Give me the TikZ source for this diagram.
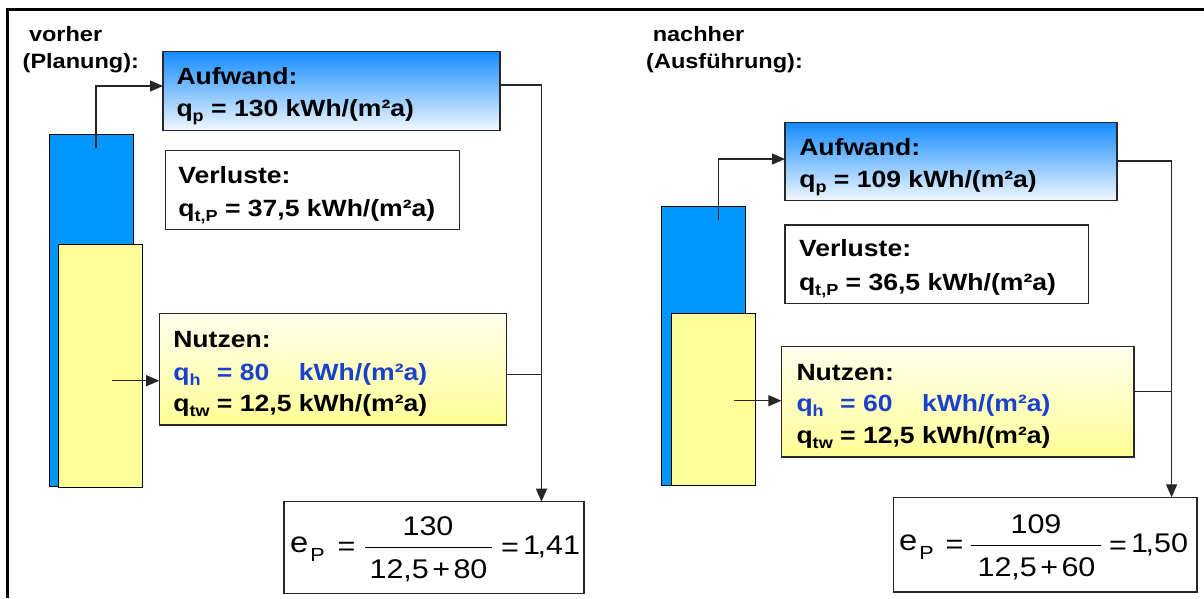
\documentclass[tikz,border=0pt]{standalone}
\usepackage{fontspec}
\setmainfont{Liberation Sans}
\usepackage{graphicx}
\usepackage{calc}
\usetikzlibrary{arrows.meta,calc}
\definecolor{aufTop}{RGB}{20,140,255}
\definecolor{aufBot}{RGB}{242,248,255}
\definecolor{nutTop}{RGB}{255,255,238}
\definecolor{nutBot}{RGB}{255,255,150}
\definecolor{barBlue}{RGB}{0,150,255}
\definecolor{barYel}{RGB}{255,255,153}
\definecolor{qblue}{RGB}{25,65,205}
\definecolor{edge}{RGB}{40,40,40}
\newcommand\hs[1]{\scalebox{1.13}[1]{#1}}
\newcommand\lowsub[1]{\raisebox{-0.22em}{\fontsize{16}{16}\selectfont #1}}
\newcommand\fsub[1]{\raisebox{-9pt}{\fontsize{19}{19}\selectfont #1}}
\newcommand\bige{{\fontsize{29}{30}\selectfont e}}
\begin{document}
\begin{tikzpicture}[x=1pt,y=-1pt,
  every node/.style={inner sep=0pt, outer sep=0pt},
  framebox/.style={draw=edge, line width=1.4pt, anchor=north west},
  aufstyle/.style={framebox, top color=aufTop, bottom color=aufBot},
  verstyle/.style={framebox, fill=white},
  nutstyle/.style={framebox, top color=nutTop, bottom color=nutBot},
  epstyle/.style={framebox, fill=white},
  bluebar/.style={draw=black, line width=1pt, fill=barBlue, anchor=north west},
  yelbar/.style={draw=black, line width=1pt, fill=barYel, anchor=north west},
  con/.style={draw=black!85, line width=1.2pt},
  arr/.style={con, -{Triangle[length=13pt,width=11pt]}},
  txt/.style={anchor=base west, font=\fontsize{23.5}{28}\selectfont\bfseries},
  lbl/.style={anchor=base west, font=\fontsize{20.8}{24}\selectfont\bfseries},
  fml/.style={font=\fontsize{27}{30}\selectfont},
]
\useasboundingbox[fill=white] (0,0) rectangle (1204,598);
% outer frame
\draw[line width=2.5pt] (7.5,598) -- (7.5,9.5) -- (1204,9.5);

% ================= LEFT: vorher =================
\node[lbl] (lv1) at (29,41.7) {\hs{vorher}};
\node[lbl] (lv2) at (22.7,68.3) {\hs{(Planung):}};

\node[bluebar, minimum width=84pt, minimum height=352pt] (bbL) at (49,134) {};
\node[yelbar, minimum width=84pt, minimum height=243pt] (ybL) at (58.6,244.3) {};

\node[aufstyle, minimum width=337pt, minimum height=79pt] (aufL) at (163,51.7) {};
\node[txt] (aufL1) at (176.5,84.5) {\hs{Aufwand:}};
\node[txt] (aufL2) at (176.5,116.7) {\hs{q\lowsub{p} = 130 kWh/(m²a)}};

\node[verstyle, minimum width=293.5pt, minimum height=78.6pt] (verL) at (165.7,150.7) {};
\node[txt] (verL1) at (178.3,183.3) {\hs{Verluste:}};
\node[txt] (verL2) at (178.3,216.7) {\hs{q\lowsub{t,P} = 37,5 kWh/(m²a)}};

\node[nutstyle, minimum width=347pt, minimum height=111.7pt] (nutL) at (159.2,313.3) {};
\node[txt] (nutL1) at (173.3,347) {\hs{Nutzen:}};
\node[txt, text=qblue] (nutL2) at (173.3,380) {\hs{\makebox[\widthof{q\lowsub{tw}}][l]{q\lowsub{h}} = \makebox[\widthof{12,5}][l]{80} kWh/(m²a)}};
\node[txt] (nutL3) at (173.3,411) {\hs{q\lowsub{tw} = 12,5 kWh/(m²a)}};

\node[epstyle, minimum width=300pt, minimum height=91.7pt] (epL) at (284,501.7) {};
\node[fml, anchor=base west] (eL) at (290,552) {\hs{\bige\kern2pt\fsub{P}}};
\node[fml] (eqL1) at (346.5,549) {\hs{=}};
\node[fml, anchor=base] (numL) at (428,535.7) {\hs{130}};
\node[fml, anchor=base] (denL) at (428.5,578.3) {\hs{12,5\kern3pt+\kern3pt80}};
\coordinate (barLa) at (365,547.7);
\coordinate (barLb) at (491.7,547.7);
\draw[line width=1.1pt] (barLa) -- (barLb);
\node[fml] (eqL2) at (510,550) {\hs{=}};
\node[fml, anchor=base west] (resL) at (523,554) {\hs{1\kern-2pt,41}};

% connectors left
\coordinate (bL) at (96,148);
\coordinate (kL) at (96,86);
\draw[arr] (bL) -- (kL) -- (kL -| aufL.west);
\coordinate (nL) at (112,380.7);
\draw[arr] (nL) -- (nL -| nutL.west);
\coordinate (rL) at (541.5,85);
\coordinate (sL) at (541.5,374.3);
\draw[con] (rL -| aufL.east) -- (rL);
\draw[con] (sL -| nutL.east) -- (sL);
\draw[arr] (rL) -- (rL |- epL.north);

% ================= RIGHT: nachher =================
\node[lbl] (rv1) at (652.8,41.7) {\hs{nachher}};
\node[lbl] (rv2) at (646.2,68.3) {\hs{(Ausführung):}};

\node[bluebar, minimum width=84.3pt, minimum height=279pt] (bbR) at (661,206.7) {};
\node[yelbar, minimum width=84pt, minimum height=172.4pt] (ybR) at (671.3,313.3) {};

\node[aufstyle, minimum width=332pt, minimum height=78pt] (aufR) at (785,122.7) {};
\node[txt] (aufR1) at (799.3,155) {\hs{Aufwand:}};
\node[txt] (aufR2) at (799.3,187.3) {\hs{q\lowsub{p} = 109 kWh/(m²a)}};

\node[verstyle, minimum width=303.3pt, minimum height=78.3pt] (verR) at (785,225) {};
\node[txt] (verR1) at (799,256.7) {\hs{Verluste:}};
\node[txt] (verR2) at (799,290) {\hs{q\lowsub{t,P} = 36,5 kWh/(m²a)}};

\node[nutstyle, minimum width=352.5pt, minimum height=110.7pt] (nutR) at (781.4,346.3) {};
\node[txt] (nutR1) at (796.5,380) {\hs{Nutzen:}};
\node[txt, text=qblue] (nutR2) at (796.5,411.7) {\hs{\makebox[\widthof{q\lowsub{tw}}][l]{q\lowsub{h}} = \makebox[\widthof{12,5}][l]{60} kWh/(m²a)}};
\node[txt] (nutR3) at (796.5,443.3) {\hs{q\lowsub{tw} = 12,5 kWh/(m²a)}};

\node[epstyle, minimum width=303.7pt, minimum height=94.5pt] (epR) at (893.3,497.3) {};
\node[fml, anchor=base west] (eR) at (899,550) {\hs{\bige\kern2pt\fsub{P}}};
\node[fml] (eqR1) at (954.5,547) {\hs{=}};
\node[fml, anchor=base] (numR) at (1036,533.7) {\hs{109}};
\node[fml, anchor=base] (denR) at (1036.5,576.3) {\hs{12,5\kern3pt+\kern3pt60}};
\coordinate (barRa) at (971,545.7);
\coordinate (barRb) at (1101,545.7);
\draw[line width=1.1pt] (barRa) -- (barRb);
\node[fml] (eqR2) at (1118,548) {\hs{=}};
\node[fml, anchor=base west] (resR) at (1131,552) {\hs{1\kern-2pt,50}};

% connectors right
\coordinate (bR) at (718.3,220);
\coordinate (kR) at (718.3,159);
\draw[arr] (bR) -- (kR) -- (kR -| aufR.west);
\coordinate (nR) at (734,400.7);
\draw[arr] (nR) -- (nR -| nutR.west);
\coordinate (rR) at (1171.6,161);
\coordinate (sR) at (1171.6,391.7);
\draw[con] (rR -| aufR.east) -- (rR);
\draw[con] (sR -| nutR.east) -- (sR);
\draw[arr] (rR) -- (rR |- epR.north);
\end{tikzpicture}
\end{document}
